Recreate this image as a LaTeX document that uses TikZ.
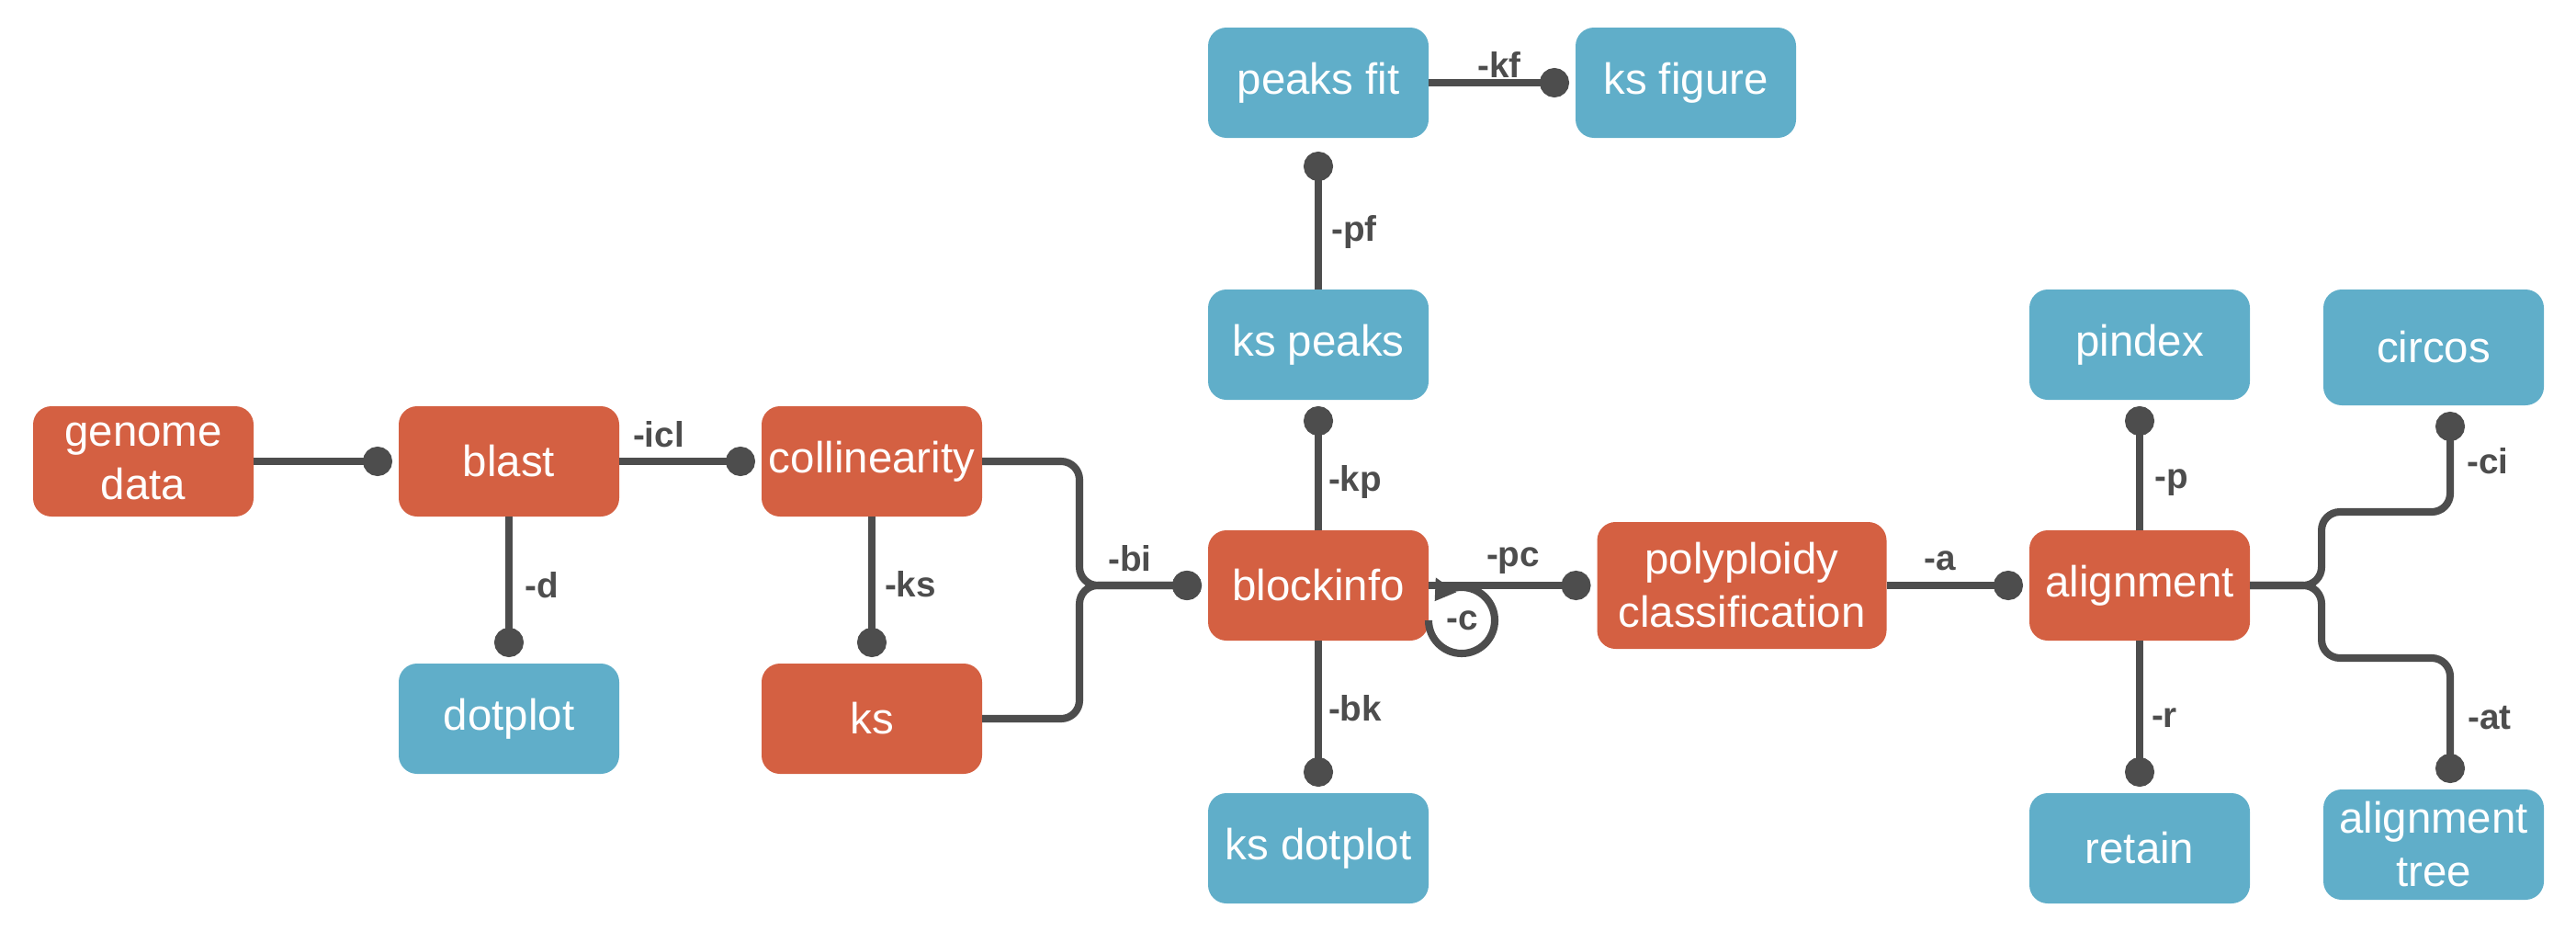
\documentclass[tikz,border=0pt]{standalone}
\usepackage{fontspec}
\setmainfont{Liberation Sans}
\usetikzlibrary{arrows.meta}
\definecolor{boxred}{HTML}{D46042}
\definecolor{boxblue}{HTML}{60AEC9}
\definecolor{linegray}{HTML}{4D4D4D}

\begin{document}
\begin{tikzpicture}[
		redbox/.style={fill=boxred, rounded corners=2mm, minimum width=2.4cm, minimum height=1.2cm, inner sep=0pt, outer sep=0pt, text=white, align=center, font=\fontsize{13.5}{16.5}\selectfont},
		bluebox/.style={redbox, fill=boxblue},
		conn/.style={draw=linegray, line width=2.3pt, -{Circle[length=3.2mm]}, shorten >=0.7mm},
		lbl/.style={text=linegray, font=\fontsize{11}{13}\selectfont\bfseries}]
		\useasboundingbox (0,0) rectangle (28.04,10.12);

		\node[redbox] (genome) at (1.56,5.10) {genome\\data};
		\node[redbox] (blast) at (5.54,5.10) {blast};
		\node[redbox] (colli) at (9.49,5.10) {collinearity};
		\node[bluebox] (dotplot) at (5.54,2.30) {dotplot};
		\node[redbox] (ks) at (9.49,2.30) {ks};
		\node[redbox] (blockinfo) at (14.35,3.75) {blockinfo};
		\node[bluebox] (kspeaks) at (14.35,6.37) {ks peaks};
		\node[bluebox] (peaksfit) at (14.35,9.22) {peaks fit};
		\node[bluebox] (ksfigure) at (18.35,9.22) {ks figure};
		\node[bluebox] (ksdotplot) at (14.35,0.89) {ks dotplot};
		\node[redbox, minimum width=3.15cm, minimum height=1.38cm] (poly) at (18.96,3.75) {polyploidy\\classification};
		\node[redbox] (alignment) at (23.29,3.75) {alignment};
		\node[bluebox] (pindex) at (23.29,6.37) {pindex};
		\node[bluebox, minimum height=1.26cm] (circos) at (26.49,6.34) {circos};
		\node[bluebox] (retain) at (23.29,0.89) {retain};
		\node[bluebox] (aligntree) at (26.49,0.93) {alignment\\tree};

		\draw[conn] (genome) -- (blast);
		\draw[conn] (blast) -- (colli);
		\draw[conn] (blast) -- (dotplot);
		\draw[conn] (colli) -- (ks);
		\draw[conn, rounded corners=2mm] (colli.east) -- ++(1.06,0) |- (blockinfo.west);
		\draw[conn, rounded corners=2mm] (ks.east) -- ++(1.06,0) |- (blockinfo.west);
		\draw[conn] (blockinfo) -- (kspeaks);
		\draw[conn, shorten >=1.5mm] (kspeaks) -- (peaksfit);
		\draw[conn] (peaksfit) -- (ksfigure);
		\draw[conn] (blockinfo) -- (ksdotplot);
		\draw[conn] (blockinfo) -- (poly);
		\draw[draw=linegray, line width=2.3pt, -{Triangle[length=2.2mm, width=2.6mm]}] ([yshift=-3.8mm]blockinfo.east) arc[start angle=180, end angle=505, radius=3.6mm];
		\draw[conn] (poly) -- (alignment);
		\draw[conn] (alignment) -- (pindex);
		\draw[conn] (alignment) -- (retain);
		\draw[conn, rounded corners=2mm] (alignment.east) -- ++(0.78,0) |- ++(1.4,0.8) -- ([xshift=1.8mm]circos.south);
		\draw[conn, rounded corners=2mm] (alignment.east) -- ++(0.78,0) |- ++(1.4,-0.79) -- ([xshift=1.8mm]aligntree.north);

		\node[lbl] (licl) at (7.17,5.39) {-icl};
		\node[lbl] (ld) at (5.90,3.75) {-d};
		\node[lbl] (lks) at (9.91,3.76) {-ks};
		\node[lbl] (lbi) at (12.30,4.04) {-bi};
		\node[lbl] (lkp) at (14.75,4.88) {-kp};
		\node[lbl] (lpf) at (14.74,7.60) {-pf};
		\node[lbl] (lkf) at (16.32,9.42) {-kf};
		\node[lbl] (lbk) at (14.75,2.41) {-bk};
		\node[lbl] (lpc) at (16.47,4.02) {-pc};
		\node[lbl] (lc) at (15.92,3.37) {-c};
		\node[lbl] (la) at (21.12,4.02) {-a};
		\node[lbl] (lp) at (23.64,4.87) {-p};
		\node[lbl] (lr) at (23.56,2.31) {-r};
		\node[lbl] (lci) at (27.08,5.10) {-ci};
		\node[lbl] (lat) at (27.10,2.31) {-at};
	\end{tikzpicture}
\end{document}
